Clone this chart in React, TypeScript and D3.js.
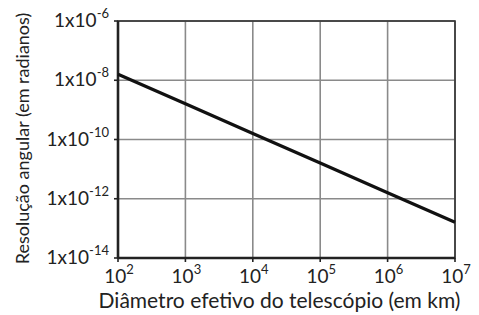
import React, { useEffect, useRef } from 'react';
import * as d3 from 'd3';

// diameter (km) vs angular resolution (rad)
const diameters = [1e2, 1e3, 1e4, 1e5, 1e6, 1e7];
const resolutions = [1.6e-8, 1.6e-9, 1.6e-10, 1.6e-11, 1.6e-12, 1.6e-13];

const xTickExps = [2, 3, 4, 5, 6, 7];
const yTickExps = [-6, -8, -10, -12, -14];

const xLabel = 'Diâmetro efetivo do telescópio (em km)';
const yLabel = 'Resolução angular (em radianos)';

export default function App() {
  const ref = useRef<SVGSVGElement>(null);

  useEffect(() => {
    const width = 479;
    const height = 315;
    const margin = { top: 21, right: 24, bottom: 57, left: 118 };
    const w = width - margin.left - margin.right;
    const h = height - margin.top - margin.bottom;
    const font = 'Lato, "Open Sans", sans-serif';

    const root = d3.select(ref.current);
    root.selectAll('*').remove();
    const svg = root
      .append('g')
      .attr('transform', 'translate(' + margin.left + ',' + margin.top + ')');

    const x = d3.scaleLog().domain([1e2, 1e7]).range([0, w]);
    const y = d3.scaleLog().domain([1e-14, 1e-6]).range([h, 0]);

    // grid
    svg
      .append('g')
      .selectAll('line')
      .data(xTickExps)
      .enter()
      .append('line')
      .attr('x1', (d) => x(Math.pow(10, d)))
      .attr('x2', (d) => x(Math.pow(10, d)))
      .attr('y1', 0)
      .attr('y2', h)
      .style('stroke', '#8a8a8a')
      .style('stroke-width', 1.6);
    svg
      .append('g')
      .selectAll('line')
      .data(yTickExps)
      .enter()
      .append('line')
      .attr('x1', 0)
      .attr('x2', w)
      .attr('y1', (d) => y(Math.pow(10, d)))
      .attr('y2', (d) => y(Math.pow(10, d)))
      .style('stroke', '#8a8a8a')
      .style('stroke-width', 1.6);

    // frame
    svg
      .append('rect')
      .attr('x', 0)
      .attr('y', 0)
      .attr('width', w)
      .attr('height', h)
      .style('fill', 'none')
      .style('stroke', '#333')
      .style('stroke-width', 1.6);
    svg.append('line').attr('x1', 0).attr('x2', 0).attr('y1', 0).attr('y2', h)
      .style('stroke', '#222').style('stroke-width', 2.6);
    svg.append('line').attr('x1', 0).attr('x2', w).attr('y1', h).attr('y2', h)
      .style('stroke', '#222').style('stroke-width', 2.6);

    // ticks
    svg
      .append('g')
      .selectAll('line')
      .data(yTickExps)
      .enter()
      .append('line')
      .attr('x1', -4)
      .attr('x2', 0)
      .attr('y1', (d) => y(Math.pow(10, d)))
      .attr('y2', (d) => y(Math.pow(10, d)))
      .style('stroke', '#222')
      .style('stroke-width', 1.6);
    svg
      .append('g')
      .selectAll('line')
      .data(xTickExps)
      .enter()
      .append('line')
      .attr('x1', (d) => x(Math.pow(10, d)))
      .attr('x2', (d) => x(Math.pow(10, d)))
      .attr('y1', h)
      .attr('y2', h + 4)
      .style('stroke', '#222')
      .style('stroke-width', 1.6);

    // y tick labels
    const yl = svg
      .append('g')
      .selectAll('text')
      .data(yTickExps)
      .enter()
      .append('text')
      .attr('x', -9)
      .attr('y', (d) => y(Math.pow(10, d)) + 6)
      .attr('text-anchor', 'end')
      .style('font-family', font)
      .style('font-size', '19px')
      .style('fill', '#222');
    yl.append('tspan').text('1x10');
    yl.append('tspan')
      .attr('dy', -9)
      .style('font-size', '13px')
      .text((d) => String(d));

    // x tick labels
    const xl = svg
      .append('g')
      .selectAll('text')
      .data(xTickExps)
      .enter()
      .append('text')
      .attr('x', (d) => x(Math.pow(10, d)) + 1)
      .attr('y', h + 25)
      .attr('text-anchor', 'middle')
      .style('font-family', font)
      .style('font-size', '19px')
      .style('fill', '#222');
    xl.append('tspan').text('10');
    xl.append('tspan')
      .attr('dy', -9)
      .style('font-size', '13px')
      .text((d) => String(d));

    // axis titles
    svg
      .append('text')
      .attr('x', w / 2 - 7)
      .attr('y', h + 50)
      .attr('text-anchor', 'middle')
      .style('font-family', font)
      .style('font-size', '21px')
      .style('fill', '#222')
      .text(xLabel);
    svg
      .append('text')
      .attr('transform', 'rotate(-90)')
      .attr('x', -h / 2 + 1)
      .attr('y', -margin.left + 29)
      .attr('text-anchor', 'middle')
      .style('font-family', font)
      .style('font-size', '18px')
      .style('fill', '#222')
      .text(yLabel);

    // line
    const line = d3
      .line<number>()
      .x((d, i) => x(diameters[i]))
      .y((d) => y(d));
    svg
      .append('path')
      .datum(resolutions)
      .attr('d', line)
      .style('fill', 'none')
      .style('stroke', '#111')
      .style('stroke-width', 3.2);
  }, []);

  return (
    <div style={{ position: 'absolute', left: 0, top: 0 }}>
      <svg ref={ref} width={479} height={315} style={{ display: 'block', background: '#fff' }} />
    </div>
  );
}
